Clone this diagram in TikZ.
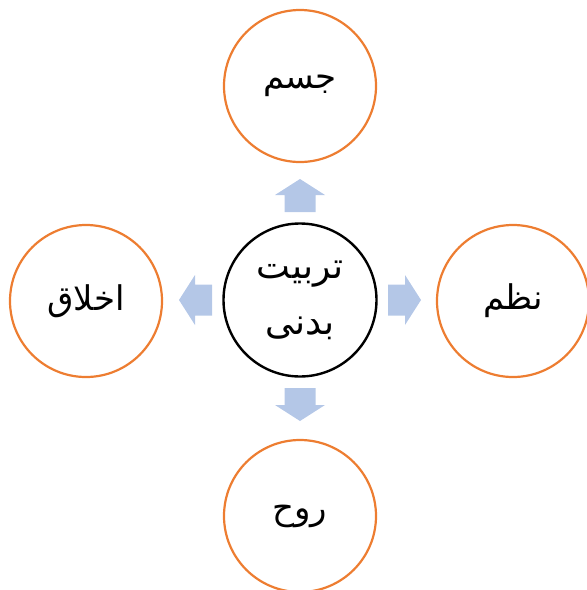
\documentclass[tikz,border=0pt]{standalone}
\usepackage{fontspec}
\TeXXeTstate=1
\newfontfamily\arabicfont[Script=Arabic]{DejaVu Sans}
\definecolor{ringorange}{HTML}{ED7D31}
\definecolor{arrowblue}{HTML}{B4C7E7}
\newcommand{\lowtext}[1]{\raisebox{-5pt}{\beginR #1\endR}}
\begin{document}
\begin{tikzpicture}[x=1pt,y=-1pt,
  outer/.style={circle,draw=ringorange,line width=2.2pt,minimum size=152pt,inner sep=0pt,font=\arabicfont\fontsize{34}{40}\selectfont},
  hub/.style={circle,draw=black,line width=2.4pt,minimum size=153pt,inner sep=0pt,align=center,font=\arabicfont\fontsize{36}{56}\selectfont},
  blockarrow/.style={fill=arrowblue}]
\useasboundingbox (0,0) rectangle (587,590);
\node[hub] (c) at (300,300) {\beginR تربیت\endR\\\beginR بدنی\endR};
\node[outer] (t) at (300,86) {\lowtext{جسم}};
\node[outer] (r) at (513,301) {\lowtext{نظم}};
\node[outer] (b) at (300,516) {\lowtext{روح}};
\node[outer] (l) at (86,301) {\lowtext{اخلاق}};
\foreach \ang in {0,90,180,270}{
  \begin{scope}[shift={(c.center)},rotate=\ang]
    \fill[blockarrow] (-15.5,-88) -- (-15.5,-105) -- (-25,-105) -- (0,-121) -- (25,-105) -- (15.5,-105) -- (15.5,-88) -- cycle;
  \end{scope}
}
\end{tikzpicture}
\end{document}
